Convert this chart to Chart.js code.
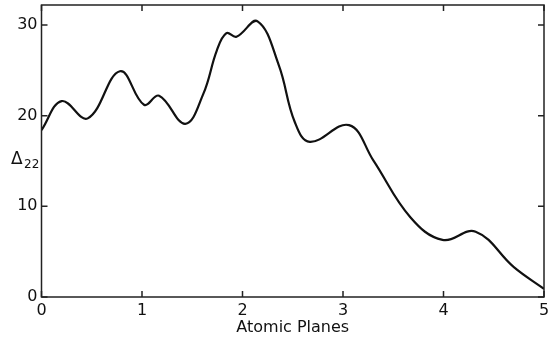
<!DOCTYPE html>
<html>
<head>
<meta charset="utf-8">
<script src="https://cdn.jsdelivr.net/npm/chart.js@4.4.1/dist/chart.umd.min.js"></script>
<style>
  html, body { margin: 0; padding: 0; background: #fff; }
  #wrap { width: 550px; height: 339px; }
</style>
</head>
<body>
<div id="wrap"><canvas id="c"></canvas></div>
<script>
// valores
const planes = [0, 0.2, 0.46, 0.78, 1.02, 1.17, 1.43, 1.61, 1.745, 1.84, 1.94, 2.15, 2.36, 2.52, 2.67, 3.06, 3.3, 3.67, 3.99, 4.32, 4.7, 5.0];
const delta22 = [18.4, 21.6, 19.7, 24.9, 21.2, 22.2, 19.1, 22.4, 27.2, 29.1, 28.7, 30.4, 25.6, 19.3, 17.1, 18.95, 15.1, 8.8, 6.3, 7.2, 3.3, 0.9];
const xTicks = [0, 1, 2, 3, 4, 5];
const yTicks = [0, 10, 20, 30];

const points = planes.map((x, i) => ({ x: x, y: delta22[i] }));
const FONT = "'DejaVu Sans', sans-serif";

// moldura + ticks para dentro + rótulo Δ22
const framePlugin = {
    id: 'frame',
    afterDraw(chart) {
        const ctx = chart.ctx;
        const a = chart.chartArea;
        const xs = chart.scales.x, ys = chart.scales.y;
        ctx.save();
        ctx.strokeStyle = '#222';
        ctx.lineWidth = 1.5;
        ctx.strokeRect(a.left, a.top, a.right - a.left, a.bottom - a.top);
        const len = 6;
        ctx.beginPath();
        xTicks.forEach(v => {
            const px = xs.getPixelForValue(v);
            ctx.moveTo(px, a.bottom); ctx.lineTo(px, a.bottom - len);
            ctx.moveTo(px, a.top); ctx.lineTo(px, a.top + len);
        });
        yTicks.forEach(v => {
            const py = ys.getPixelForValue(v);
            ctx.moveTo(a.left, py); ctx.lineTo(a.left + len, py);
            ctx.moveTo(a.right, py); ctx.lineTo(a.right - len, py);
        });
        ctx.stroke();

        // Δ22
        ctx.fillStyle = '#111';
        ctx.textBaseline = 'alphabetic';
        ctx.font = '17px ' + FONT;
        ctx.fillText('Δ', 11, 164);
        ctx.font = '12px ' + FONT;
        ctx.fillText('22', 24, 168);
        ctx.restore();
    }
};

new Chart(document.getElementById('c'), {
    type: 'line',
    data: {
        datasets: [{
            data: points,
            borderColor: '#111',
            borderWidth: 2.2,
            pointRadius: 0,
            tension: 0.4,
            fill: false
        }]
    },
    options: {
        responsive: true,
        maintainAspectRatio: false,
        animation: false,
        layout: { padding: { top: 5, right: 6, left: 0, bottom: 0 } },
        plugins: { legend: { display: false }, tooltip: { enabled: false } },
        scales: {
            x: {
                type: 'linear',
                min: 0,
                max: 5,
                grid: { display: false, drawTicks: false, tickLength: 0 },
                border: { display: false },
                afterBuildTicks(scale) { scale.ticks = xTicks.map(v => ({ value: v })); },
                afterFit(scale) {
                    scale.height = 42;
                    scale.paddingLeft = 0;
                    scale.paddingRight = 0;
                },
                ticks: {
                    color: '#111',
                    padding: 4,
                    maxRotation: 0,
                    font: { family: FONT, size: 16 }
                },
                title: {
                    display: true,
                    text: 'Atomic Planes',
                    color: '#111',
                    padding: { top: 0, bottom: 2 },
                    font: { family: FONT, size: 16 }
                }
            },
            y: {
                min: 0,
                max: 32.2,
                grid: { display: false, drawTicks: false, tickLength: 0 },
                border: { display: false },
                afterBuildTicks(scale) { scale.ticks = yTicks.map(v => ({ value: v })); },
                afterFit(scale) {
                    scale.width = 41.5;
                    scale.paddingTop = 0;
                    scale.paddingBottom = 0;
                },
                ticks: {
                    color: '#111',
                    padding: 4,
                    font: { family: FONT, size: 16 }
                }
            }
        }
    },
    plugins: [framePlugin]
});
</script>
</body>
</html>
